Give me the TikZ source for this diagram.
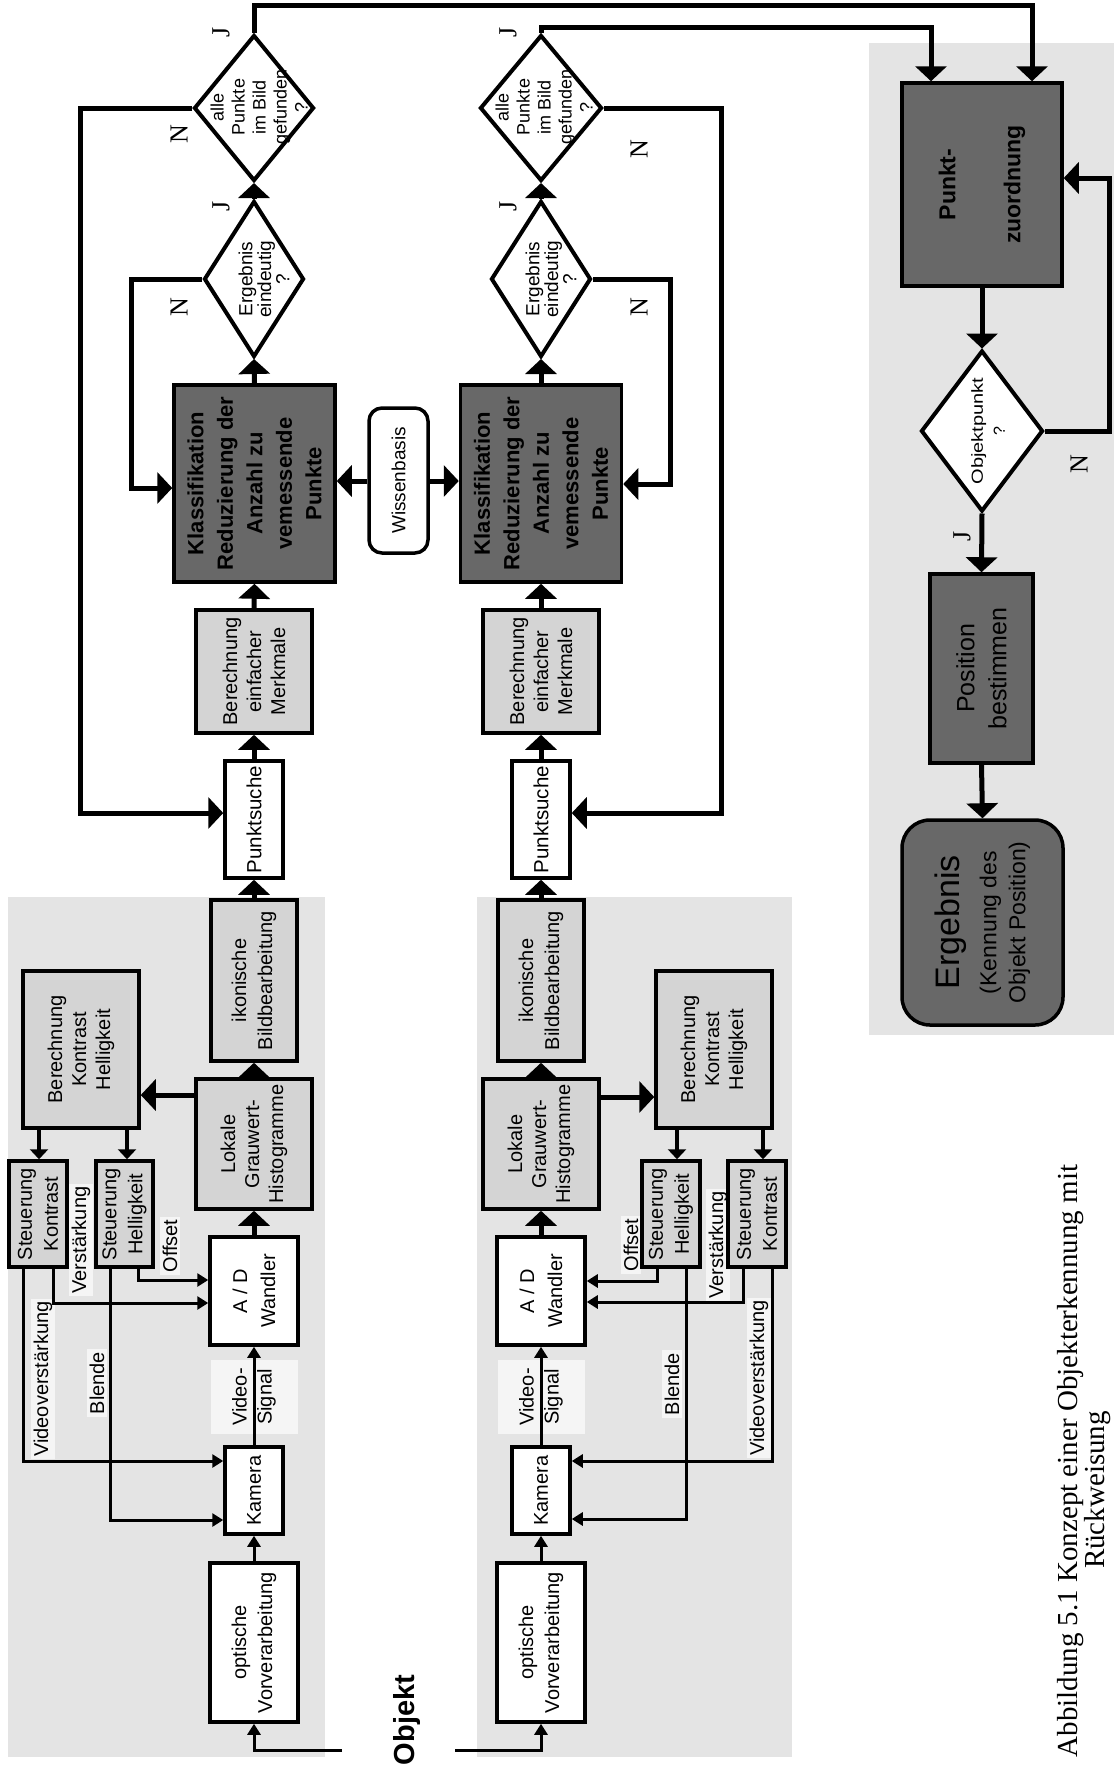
\documentclass[tikz,border=0pt]{standalone}
\usepackage{fontspec}
\usepackage{graphicx}
\setmainfont{Liberation Sans}
\newfontfamily\seriffont{Liberation Serif}
\usetikzlibrary{arrows.meta,shapes.geometric}
\definecolor{regiongray}{RGB}{228,228,228}
\definecolor{lightbox}{RGB}{212,212,212}
\definecolor{darkbox}{RGB}{104,104,104}
\definecolor{labelbg}{RGB}{245,245,245}
\begin{document}
\begin{tikzpicture}[x=1pt,y=-1pt,
  bx/.style={rotate=90, draw, line width=3.5pt, align=center, inner sep=0pt, font=\fontsize{20}{25}\selectfont},
  wbox/.style={bx, fill=white},
  gbox/.style={bx, fill=lightbox},
  dbox/.style={bx, fill=darkbox, font=\bfseries\fontsize{22}{29.5}\selectfont},
  sz/.style 2 args={minimum height=#1, minimum width=#2},
  dia/.style={diamond, draw, line width=4pt, fill=white, inner sep=0pt},
  dtext/.style={rotate=90, align=center, inner sep=0pt},
  lbl/.style={rotate=90, fill=labelbg, inner sep=2.5pt, font=\fontsize{20}{24}\selectfont},
  yn/.style={rotate=90, inner sep=0pt, font=\seriffont\fontsize{26}{26}\selectfont},
  flow/.style={line width=5pt, -{Triangle[width=31pt,length=15pt]}},
  ctl/.style={line width=3pt, -{Triangle[width=13pt,length=11pt]}},
  ctlm/.style={line width=3.5pt, -{Triangle[width=18pt,length=10pt]}},
  fbl/.style={line width=5pt}
]
\useasboundingbox (0,0) rectangle (1114,1773);
\fill[white] (0,0) rectangle (1114,1773);
% background regions
\fill[regiongray] (8,897) rectangle (325,1757);
\fill[regiongray] (477,897) rectangle (792,1757);
\fill[regiongray] (869,43) rectangle (1114,1035);

% ---------- labels (channel 1)
\node[lbl] (lv1) at (43,1379) {Videoverstärkung};
\node[lbl] (lva1) at (81,1240) {Verstärkung};
\node[lbl] (lb1) at (97,1383) {Blende};
\node[lbl] (lo1) at (170,1246) {Offset};
\node[lbl, inner sep=0pt, align=center, minimum width=74pt, minimum height=87pt, font=\fontsize{20}{25}\selectfont] (vs1) at (254,1397) {Video-\\Signal};
% ---------- labels (channel 2)
\node[lbl] (lv2) at (759,1378) {Videoverstärkung};
\node[lbl] (lva2) at (718,1245) {Verstärkung};
\node[lbl] (lb2) at (672,1384) {Blende};
\node[lbl] (lo2) at (631,1245) {Offset};
\node[lbl, inner sep=0pt, align=center, minimum width=74pt, minimum height=87pt, font=\fontsize{20}{25}\selectfont] (vs2) at (541,1397) {Video-\\Signal};

% ---------- channel 1 nodes
\node[wbox, sz={88pt}{159pt}, font=\fontsize{20}{26}\selectfont] (opt1) at (254,1642.5) {optische\\Vorverarbeitung};
\node[wbox, sz={58pt}{87pt}] (kam1) at (254,1490.5) {Kamera};
\node[wbox, sz={88pt}{108pt}, font=\fontsize{20}{28}\selectfont] (ad1) at (254,1291) {A / D\\Wandler};
\node[gbox, sz={116pt}{130pt}, font=\fontsize{20}{24}\selectfont] (lok1) at (254,1144) {Lokale\\Grauwert-\\Histogramme};
\node[gbox, sz={86pt}{161pt}, font=\fontsize{20}{26}\selectfont] (iko1) at (254,980.5) {ikonische\\Bildbearbeitung};
\node[gbox, sz={116pt}{157pt}, font=\fontsize{20}{24}\selectfont] (bkh1) at (81,1049.5) {Berechnung\\Kontrast\\Helligkeit};
\node[gbox, sz={58pt}{106pt}, font=\fontsize{20}{26}\selectfont] (stk1) at (38,1214) {Steuerung\\Kontrast};
\node[gbox, sz={57pt}{106pt}, font=\fontsize{20}{26}\selectfont] (sth1) at (124.5,1214) {Steuerung\\Helligkeit};
\node[wbox, sz={58pt}{117pt}, font=\fontsize{20.5}{25}\selectfont] (pkt1) at (254,819.5) {Punktsuche};
\node[gbox, sz={116pt}{123pt}, font=\fontsize{20}{24}\selectfont] (bem1) at (254,671.5) {Berechnung\\einfacher\\Merkmale};
\node[dbox, sz={161pt}{197pt}] (kla1) at (254.5,483.5) {Klassifikation\\Reduzierung der\\Anzahl zu\\vemessende\\Punkte};
\node[dia, minimum width=100pt, minimum height=156pt] (erg1) at (254,279) {};
\node[dtext, font=\fontsize{19}{17}\selectfont] (erg1t) at (264,279) {Ergebnis\\eindeutig\\?};
\node[dia, minimum width=120pt, minimum height=146pt] (all1) at (254,108) {};
\node[dtext, font=\fontsize{18}{21}\selectfont] (all1t) at (259,107) {alle\\Punkte\\im Bild\\gefunden\\?};

% ---------- channel 2 nodes
\node[wbox, sz={88pt}{159pt}, font=\fontsize{20}{26}\selectfont] (opt2) at (541,1642.5) {optische\\Vorverarbeitung};
\node[wbox, sz={58pt}{87pt}] (kam2) at (541,1490.5) {Kamera};
\node[wbox, sz={88pt}{108pt}, font=\fontsize{20}{28}\selectfont] (ad2) at (541,1291) {A / D\\Wandler};
\node[gbox, sz={116pt}{130pt}, font=\fontsize{20}{24}\selectfont] (lok2) at (541,1144) {Lokale\\Grauwert-\\Histogramme};
\node[gbox, sz={86pt}{161pt}, font=\fontsize{20}{26}\selectfont] (iko2) at (541,980.5) {ikonische\\Bildbearbeitung};
\node[gbox, sz={116pt}{157pt}, font=\fontsize{20}{24}\selectfont] (bkh2) at (714,1049.5) {Berechnung\\Kontrast\\Helligkeit};
\node[gbox, sz={58pt}{106pt}, font=\fontsize{20}{26}\selectfont] (sth2) at (671,1214) {Steuerung\\Helligkeit};
\node[gbox, sz={58pt}{106pt}, font=\fontsize{20}{26}\selectfont] (stk2) at (757,1214) {Steuerung\\Kontrast};
\node[wbox, sz={58pt}{117pt}, font=\fontsize{20.5}{25}\selectfont] (pkt2) at (541,819.5) {Punktsuche};
\node[gbox, sz={116pt}{123pt}, font=\fontsize{20}{24}\selectfont] (bem2) at (541,671.5) {Berechnung\\einfacher\\Merkmale};
\node[dbox, sz={161pt}{197pt}] (kla2) at (541,483.5) {Klassifikation\\Reduzierung der\\Anzahl zu\\vemessende\\Punkte};
\node[dia, minimum width=100pt, minimum height=156pt] (erg2) at (541,279) {};
\node[dtext, font=\fontsize{19}{17}\selectfont] (erg2t) at (551,279) {Ergebnis\\eindeutig\\?};
\node[dia, minimum width=122pt, minimum height=146pt] (all2) at (541,108) {};
\node[dtext, font=\fontsize{18}{21}\selectfont] (all2t) at (544,107) {alle\\Punkte\\im Bild\\gefunden\\?};

% Wissensbasis
\node[bx, fill=white, rounded corners=13pt, sz={59pt}{145pt}, font=\fontsize{19}{22}\selectfont] (wb) at (398.5,480.5) {Wissenbasis};

% ---------- right column
\node[dbox, sz={160pt}{203pt}, font=\bfseries\fontsize{23}{25}\selectfont] (pz) at (982,184.5) {Punkt-\\[40pt]zuordnung};
\node[dia, minimum width=122pt, minimum height=161pt] (op) at (982,431) {};
\node[dtext, font=\fontsize{16}{22}\selectfont] (opq) at (988,431) {\scalebox{1.25}[1]{Objektpunkt}\\?};
\node[dbox, sz={103pt}{189pt}, font=\fontsize{25}{32}\selectfont] (pos) at (981.5,668.5) {Position\\bestimmen};
\node[dbox, rounded corners=28pt, sz={161pt}{205pt}, font=\fontsize{23}{29}\selectfont] (res) at (982.5,922.5) {{\fontsize{34}{38}\selectfont Ergebnis}\\[8pt](Kennung des\\Objekt Position)};

% ---------- N / J labels
\node[yn] (n1a) at (179,134) {N};
\node[yn] (n1b) at (179,307) {N};
\node[yn] (j1a) at (221,32) {J};
\node[yn] (j1b) at (221,206) {J};
\node[yn] (n2a) at (639,149) {N};
\node[yn] (n2b) at (639,307) {N};
\node[yn] (j2a) at (508,32) {J};
\node[yn] (j2b) at (508,206) {J};
\node[yn] (n3) at (1079,464) {N};
\node[yn] (j3) at (962,536) {J};

% ---------- Objekt and caption
\node[rotate=90, inner sep=0pt, font=\bfseries\fontsize{29}{29}\selectfont] (obj) at (407,1720) {Objekt};
\node[rotate=90, inner sep=0pt, font=\seriffont\fontsize{29}{29}\selectfont] (cap1) at (1071,1461) {Abbildung 5.1 Konzept einer Objekterkennung mit};
\node[rotate=90, inner sep=0pt, font=\seriffont\fontsize{29}{29}\selectfont] (cap2) at (1098,1490) {Rückweisung};

% ---------- connectors channel 1
\coordinate (in1) at (342,1750);
\draw[ctl] (in1) -| (opt1.west);
\draw[ctl] (opt1.east) -- (kam1.west);
\draw[ctl] (kam1.east) -- (ad1.west);
\draw[flow] (ad1.east) -- (lok1.west);
\draw[flow] (lok1.east) -- (iko1.west);
\coordinate (h1) at (0,1095);
\draw[flow] (lok1.north |- h1) -- (bkh1.south |- h1);
\draw[flow] (iko1.east) -- (pkt1.west);
\draw[flow] (pkt1.east) -- (bem1.west);
\draw[flow] (bem1.east) -- (kla1.west);
\draw[flow] (kla1.east) -- (erg1.south);
\draw[flow] (erg1.north) -- (all1.south);
\coordinate (f1) at (80,813);
\draw[flow] (all1.west) -| (f1) -- (f1 -| pkt1.north);
\coordinate (f2) at (131,488);
\draw[flow] (erg1.west) -| (f2) -- (f2 -| kla1.north);
\coordinate (c1a) at (39,0);
\draw[ctlm] (c1a |- bkh1.west) -- (c1a |- stk1.east);
\coordinate (c1c) at (127,0);
\draw[ctlm] (c1c |- bkh1.west) -- (c1c |- sth1.east);
\coordinate (c1o) at (138,1280);
\draw[ctl] (c1o |- sth1.west) -- (c1o) -- (c1o -| ad1.north);
\coordinate (c1v) at (53,1303);
\draw[ctl] (c1v |- stk1.west) -- (c1v) -- (c1v -| ad1.north);
\coordinate (c1vv) at (23,1461);
\draw[ctl] (c1vv |- stk1.west) -- (c1vv) -- (c1vv -| kam1.north);
\coordinate (c1b) at (110,1520);
\draw[ctl] (c1b |- sth1.west) -- (c1b) -- (c1b -| kam1.north);

% ---------- connectors channel 2
\coordinate (in2) at (455,1750);
\draw[ctl] (in2) -| (opt2.west);
\draw[ctl] (opt2.east) -- (kam2.west);
\draw[ctl] (kam2.east) -- (ad2.west);
\draw[flow] (ad2.east) -- (lok2.west);
\draw[flow] (lok2.east) -- (iko2.west);
\coordinate (h2) at (0,1097);
\draw[flow] (lok2.south |- h2) -- (bkh2.north |- h2);
\draw[flow] (iko2.east) -- (pkt2.west);
\draw[flow] (pkt2.east) -- (bem2.west);
\draw[flow] (bem2.east) -- (kla2.west);
\draw[flow] (kla2.east) -- (erg2.south);
\draw[flow] (erg2.north) -- (all2.south);
\coordinate (g1) at (721,813);
\draw[flow] (all2.east) -| (g1) -- (g1 -| pkt2.south);
\coordinate (g2) at (670,484);
\draw[flow] (erg2.east) -| (g2) -- (g2 -| kla2.south);
\coordinate (c2a) at (677,0);
\draw[ctlm] (c2a |- bkh2.west) -- (c2a |- sth2.east);
\coordinate (c2c) at (763,0);
\draw[ctlm] (c2c |- bkh2.west) -- (c2c |- stk2.east);
\coordinate (c2o) at (657,1281);
\draw[ctl] (c2o |- sth2.west) -- (c2o) -- (c2o -| ad2.south);
\coordinate (c2v) at (743,1302);
\draw[ctl] (c2v |- stk2.west) -- (c2v) -- (c2v -| ad2.south);
\coordinate (c2vv) at (772,1461);
\draw[ctl] (c2vv |- stk2.west) -- (c2vv) -- (c2vv -| kam2.south);
\coordinate (c2b) at (686,1519);
\draw[ctl] (c2b |- sth2.west) -- (c2b) -- (c2b -| kam2.south);

% Wissensbasis arrows
\coordinate (w) at (0,481);
\draw[flow] (wb.north |- w) -- (kla1.south |- w);
\draw[flow] (wb.south |- w) -- (kla2.north |- w);

% ---------- top connections and right column
\coordinate (t1) at (1032,5);
\draw[flow] (all1.north) |- (t1) -- (t1 |- pz.east);
\coordinate (t2) at (931,27);
\draw[flow] (all2.north) |- (t2) -- (t2 |- pz.east);
\draw[flow] (pz.west) -- (op.north);
\draw[flow] (op.south) -- (pos.east);
\draw[flow] (pos.west) -- (res.east);
\coordinate (r1) at (1109,178);
\draw[flow] (op.east) -| (r1) -- (r1 -| pz.south);
\end{tikzpicture}
\end{document}
